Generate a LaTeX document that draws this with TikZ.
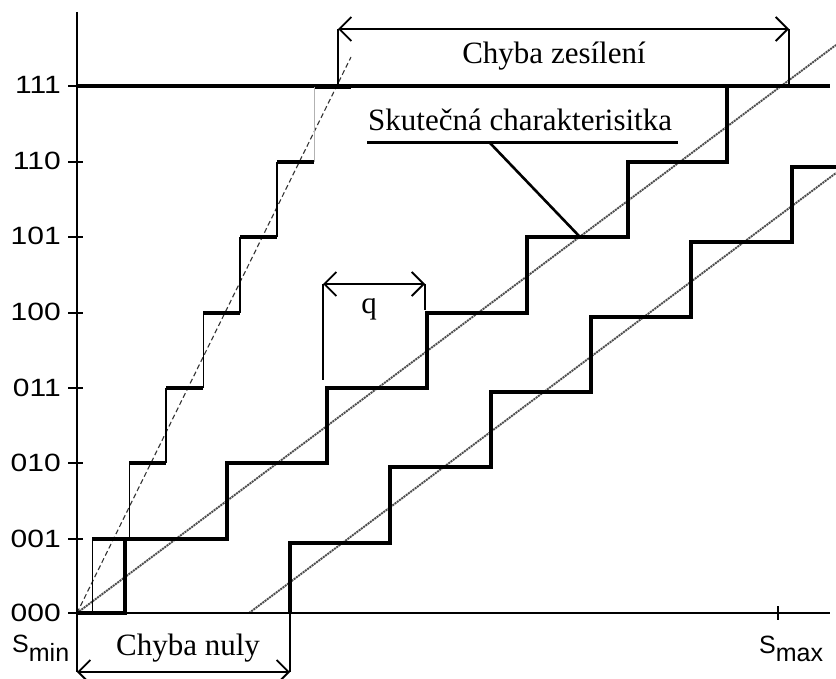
\documentclass[tikz,border=0pt]{standalone}
\usepackage{fontspec}
\setmainfont{Liberation Serif}
\newfontfamily\labfont{Liberation Sans}
\newfontfamily\digfont[FakeStretch=1.2]{Liberation Sans}
\usetikzlibrary{arrows.meta}
\begin{document}
\begin{tikzpicture}[x=1pt,y=-1pt,
  thickstep/.style={line width=3.2pt, line join=miter},
  thinstep/.style={line width=1pt},
  greystep/.style={line width=1pt, black!30},
  axisline/.style={line width=1.8pt},
  tickline/.style={line width=1.4pt},
  diag/.style={line width=1.9pt, black!70, dash pattern=on 2pt off 0.8pt},
  steepdash/.style={line width=1.1pt, black!80, dash pattern=on 5pt off 3pt},
  bracket/.style={line width=2.7pt},
  dimarrow/.style={line width=2.5pt, {Straight Barb[length=12pt,width=24pt,line width=1.8pt]}-{Straight Barb[length=12pt,width=24pt,line width=1.8pt]}},
  serif/.style={font=\fontsize{31}{31}\selectfont, inner sep=0pt},
  ylab/.style={font=\digfont\fontsize{25}{25}\selectfont, inner sep=0pt, anchor=base east},
  slab/.style={font=\labfont\fontsize{25}{25}\selectfont, inner sep=0pt, anchor=base west},
]
\useasboundingbox (0,0) rectangle (836,679);
\fill[white] (0,0) rectangle (836,679);

% diagonals
\coordinate (o) at (77,613);
\coordinate (mdEnd) at (836,45);
\coordinate (rdStart) at (249,613);
\coordinate (rdEnd) at (836,173);
\coordinate (sdEnd) at (351,57);
\draw[diag] (o) -- (mdEnd);
\draw[diag] (rdStart) -- (rdEnd);
\draw[steepdash] (o) -- (sdEnd);

% axes
\draw[axisline] (77,12) -- (77,613);
\draw[axisline] (72,613) -- (830,613);
\foreach \yy in {86,162,237,313,388,463,539,613}
  \draw[tickline] (68,\yy) -- (83,\yy);
\draw[tickline] (778,606) -- (778,620);

% level 111 line
\draw[thickstep] (77,86) -- (830,86);

% y labels
\node[ylab] (l111) at (61,94) {111};
\node[ylab] (l110) at (61,170) {110};
\node[ylab] (l101) at (61,245) {101};
\node[ylab] (l100) at (61,321) {100};
\node[ylab] (l011) at (61,396) {011};
\node[ylab] (l010) at (61,471) {010};
\node[ylab] (l001) at (61,547) {001};
\node[ylab] (l000) at (61,621) {000};

% steep staircase
\draw[thickstep] (77,613) -- (92,613);
\draw[thickstep] (92,539) -- (129,539);
\draw[thickstep] (129,463) -- (166,463);
\draw[thickstep] (166,388) -- (203,388);
\draw[thickstep] (203,313) -- (240,313);
\draw[thickstep] (240,237) -- (277,237);
\draw[thickstep] (277,162) -- (314,162);
\draw[thickstep] (314,87) -- (351,87);
\draw[thinstep] (92,613) -- (92,539);
\draw[thinstep] (129,539) -- (129,463);
\draw[line width=2pt] (166,463) -- (166,388);
\draw[thinstep] (203,388) -- (203,313);
\draw[line width=2.6pt] (240,313) -- (240,237);
\draw[line width=2.6pt] (277,237) -- (277,162);
\draw[greystep] (314,162) -- (314,87);

% middle staircase
\draw[thickstep] (77,613) -- (125,613) -- (125,539) -- (227,539) -- (227,463)
  -- (327,463) -- (327,388) -- (427,388) -- (427,313) -- (527,313) -- (527,237)
  -- (628,237) -- (628,162) -- (727,162) -- (727,86);

% right staircase
\draw[thickstep] (290,613) -- (290,543) -- (390,543) -- (390,467) -- (491,467)
  -- (491,392) -- (591,392) -- (591,317) -- (691,317) -- (691,242) -- (792,242)
  -- (792,167) -- (836,167);

% Chyba zesileni bracket
\coordinate (zl) at (338,29);
\coordinate (zr) at (789,29);
\coordinate (zlb) at (338,86);
\coordinate (zrb) at (789,86);
\draw[bracket] (zlb) -- (zl);
\draw[bracket] (zrb) -- (zr);
\draw[dimarrow] (zl) -- (zr);
\node[serif, anchor=base] (zes) at (554,64) {Chyba zesílení};

% Skutecna charakteristika label
\node[serif, anchor=base west] (skut) at (368,131) {Skutečná charakterisitka};
\coordinate (ul) at (367,143);
\coordinate (ur) at (678,143);
\coordinate (lead) at (490,143);
\coordinate (hit) at (580,237);
\draw[line width=3pt] (ul) -- (ur);
\draw[line width=2.6pt] (lead) -- (hit);

% q bracket
\coordinate (ql) at (323,284);
\coordinate (qr) at (425,284);
\coordinate (qlb) at (323,380);
\coordinate (qrb) at (425,310);
\draw[bracket] (ql) -- (qlb);
\draw[bracket] (qr) -- (qrb);
\draw[dimarrow] (ql) -- (qr);
\node[serif, anchor=base] (q) at (369,313) {q};

% Chyba nuly bracket
\coordinate (nl) at (77,672);
\coordinate (nr) at (290,672);
\coordinate (nlt) at (77,613);
\coordinate (nrt) at (290,613);
\draw[bracket] (nlt) -- (nl);
\draw[bracket] (nrt) -- (nr);
\draw[dimarrow] (nl) -- (nr);
\node[serif, anchor=base] (nuly) at (188,655) {Chyba nuly};

% s labels
\node[slab] (smin) at (12,652) {S\raisebox{-9pt}{min}};
\node[slab] (smax) at (759,653) {S\raisebox{-8pt}{max}};
\end{tikzpicture}
\end{document}
